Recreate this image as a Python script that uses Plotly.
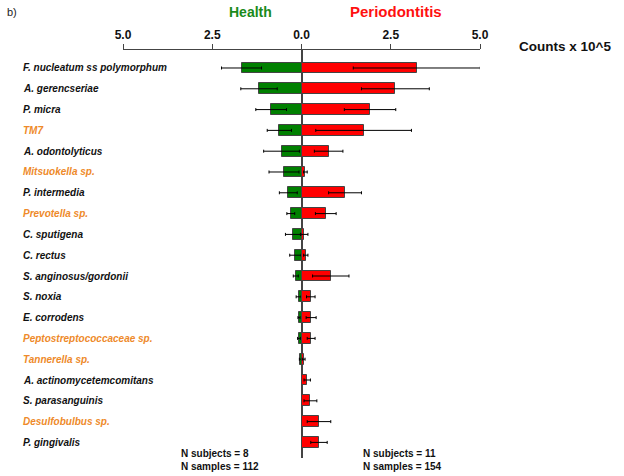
import plotly.graph_objects as go

taxa = ["F. nucleatum ss polymorphum", "A. gerencseriae", "P. micra", "TM7",
        "A. odontolyticus", "Mitsuokella sp.", "P. intermedia", "Prevotella sp.",
        "C. sputigena", "C. rectus", "S. anginosus/gordonii", "S. noxia",
        "E. corrodens", "Peptostreptococcaceae sp.", "Tannerella sp.",
        "A. actinomycetemcomitans", "S. parasanguinis", "Desulfobulbus sp.",
        "P. gingivalis"]
genus_level = [False, False, False, True, False, True, False, True, False, False,
               False, False, False, True, True, False, False, True, False]
health_mean = [1.68, 1.19, 0.85, 0.62, 0.56, 0.49, 0.37, 0.30, 0.24, 0.17,
               0.16, 0.08, 0.07, 0.07, 0.03, 0.0, 0.0, 0.0, 0.0]
health_err = [0.56, 0.51, 0.43, 0.34, 0.50, 0.42, 0.25, 0.11, 0.21, 0.16,
              0.07, 0.07, 0.03, 0.04, 0.03, 0.0, 0.0, 0.0, 0.0]
perio_mean = [3.23, 2.63, 1.92, 1.74, 0.76, 0.11, 1.22, 0.68, 0.08, 0.12,
              0.82, 0.26, 0.27, 0.27, 0.06, 0.16, 0.25, 0.49, 0.49]
perio_err = [1.78, 0.95, 0.72, 1.34, 0.40, 0.05, 0.46, 0.29, 0.10, 0.06,
             0.51, 0.12, 0.14, 0.11, 0.04, 0.09, 0.18, 0.33, 0.23]
tick_vals = [-5, -2.5, 0, 2.5, 5]
tick_text = ["5.0", "2.5", "0.0", "2.5", "5.0"]

ypos = list(range(len(taxa)))
FONT = "Liberation Sans, Arial, sans-serif"

fig = go.Figure()
fig.add_trace(go.Bar(
    y=ypos, x=[-v for v in health_mean], orientation="h", width=0.52,
    marker=dict(color="#008000", line=dict(color="#444444", width=1)),
    error_x=dict(type="data", array=health_err, color="black", thickness=1, width=1.5),
    name="Health", showlegend=False))
fig.add_trace(go.Bar(
    y=ypos, x=perio_mean, orientation="h", width=0.52,
    marker=dict(color="#ff0000", line=dict(color="#444444", width=1)),
    error_x=dict(type="data", array=perio_err, color="black", thickness=1, width=1.5),
    name="Periodontitis", showlegend=False))

FW, FH = 624, 476
L, T = 123, 50
R = FW - 480
B = FH - 458
W = FW - L - R
H = FH - T - B

def px(xp):
    return (xp - L) / W

def py(yp):
    return 1 - (yp - T) / H

annotations = []
for i, (t, g) in enumerate(zip(taxa, genus_level)):
    annotations.append(dict(
        x=px(21), xref="paper", y=i, yref="y", text="<b><i>%s</i></b>" % t,
        showarrow=False, xanchor="left", yanchor="middle",
        font=dict(family=FONT, size=10, color="#ee8a2a" if g else "#111111")))

annotations += [
    dict(x=px(250), xref="paper", y=py(12), yref="paper",
         text="<b>Health</b>", showarrow=False, xanchor="center", yanchor="middle",
         font=dict(family=FONT, size=14, color="#1a8a1a")),
    dict(x=px(396), xref="paper", y=py(12), yref="paper",
         text="<b>Periodontitis</b>", showarrow=False, xanchor="center", yanchor="middle",
         font=dict(family=FONT, size=15, color="#ff1010")),
    dict(x=px(5), xref="paper", y=py(12), yref="paper",
         text="b)", showarrow=False, xanchor="left", yanchor="middle",
         font=dict(family=FONT, size=11, color="#222222")),
    dict(x=px(517), xref="paper", y=py(46), yref="paper",
         text="<b>Counts x 10^5</b>", showarrow=False, xanchor="left", yanchor="middle",
         font=dict(family=FONT, size=13.5, color="#111111")),
    dict(x=px(179), xref="paper", y=py(460), yref="paper",
         text="<b>N subjects = 8<br>N samples = 112</b>", showarrow=False,
         xanchor="left", yanchor="middle", align="left",
         font=dict(family=FONT, size=10, color="#111111")),
    dict(x=px(361), xref="paper", y=py(460), yref="paper",
         text="<b>N subjects = 11<br>N samples = 154</b>", showarrow=False,
         xanchor="left", yanchor="middle", align="left",
         font=dict(family=FONT, size=10, color="#111111")),
]

fig.update_layout(
    width=FW, height=FH, margin=dict(l=L, r=R, t=T, b=B, autoexpand=False),
    paper_bgcolor="white", plot_bgcolor="white", barmode="overlay",
    annotations=annotations, bargap=0,
    xaxis=dict(side="top", range=[-5, 5], tickvals=tick_vals, ticktext=tick_text,
               showgrid=False, showline=True, linecolor="#444444", linewidth=1,
               ticks="outside", ticklen=5, tickcolor="#444444",
               tickfont=dict(family=FONT, size=12, color="#111111", weight="bold"),
               zeroline=True, zerolinecolor="#444444", zerolinewidth=1.5,
               fixedrange=True),
    yaxis=dict(range=[18.75, -0.865], showticklabels=False, showgrid=False,
               zeroline=False, showline=False, ticks="", fixedrange=True),
)

fig.write_html("out.html", config={"displayModeBar": False},
               post_script="document.body.style.margin='0';document.body.style.overflow='hidden';")
